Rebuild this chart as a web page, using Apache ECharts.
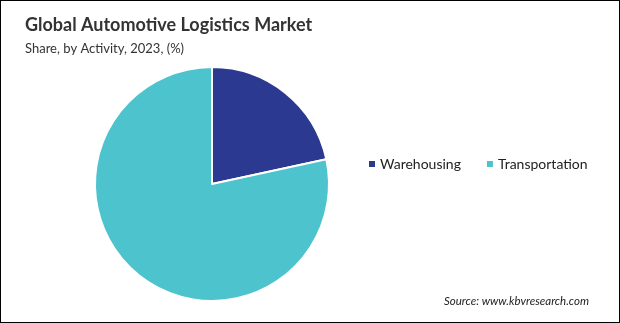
<!DOCTYPE html>
<html><head><meta charset="utf-8">
<script src="https://cdn.jsdelivr.net/npm/echarts@6/dist/echarts.min.js"></script>
<style>html,body{margin:0;padding:0;background:#fff}#c{width:620px;height:323px;box-sizing:border-box;border:1px solid #000}</style>
</head><body><div id="c"></div>
<script>
const categories = ["Warehousing", "Transportation"];
const shares = [21.6, 78.4];
const colors = ["#2B3990", "#4DC3CE"];

const chart = echarts.init(document.getElementById('c'));
chart.setOption({
  animation: false,
  color: colors,
  title: [{
    text: "Global Automotive Logistics Market",
    left: 19, top: 10,
    textStyle: {fontFamily: "Lato", fontWeight: "bold", fontSize: 18, color: "#333"}
  }, {
    text: "Share, by Activity, 2023, (%)",
    left: 19, top: 36,
    textStyle: {fontFamily: "Lato", fontWeight: "normal", fontSize: 13, color: "#333"}
  }, {
    text: "Source: www.kbvresearch.com",
    right: 25, top: 289,
    textStyle: {fontFamily: "Lato", fontStyle: "italic", fontWeight: "normal", fontSize: 11.5, color: "#222"}
  }],
  legend: {
    left: 361, top: 151,
    icon: "rect", itemWidth: 8, itemHeight: 8, itemGap: 24,
    textStyle: {fontFamily: "Lato", fontSize: 14, color: "#222", padding: [0,0,0,-1]},
    data: categories
  },
  series: [{
    type: "pie",
    center: [211, 183],
    radius: [0, 117],
    startAngle: 90,
    clockwise: true,
    label: {show: false},
    labelLine: {show: false},
    itemStyle: {borderColor: "#fff", borderWidth: 2},
    data: categories.map((c, i) => ({name: c, value: shares[i]}))
  }]
});
</script></body></html>
